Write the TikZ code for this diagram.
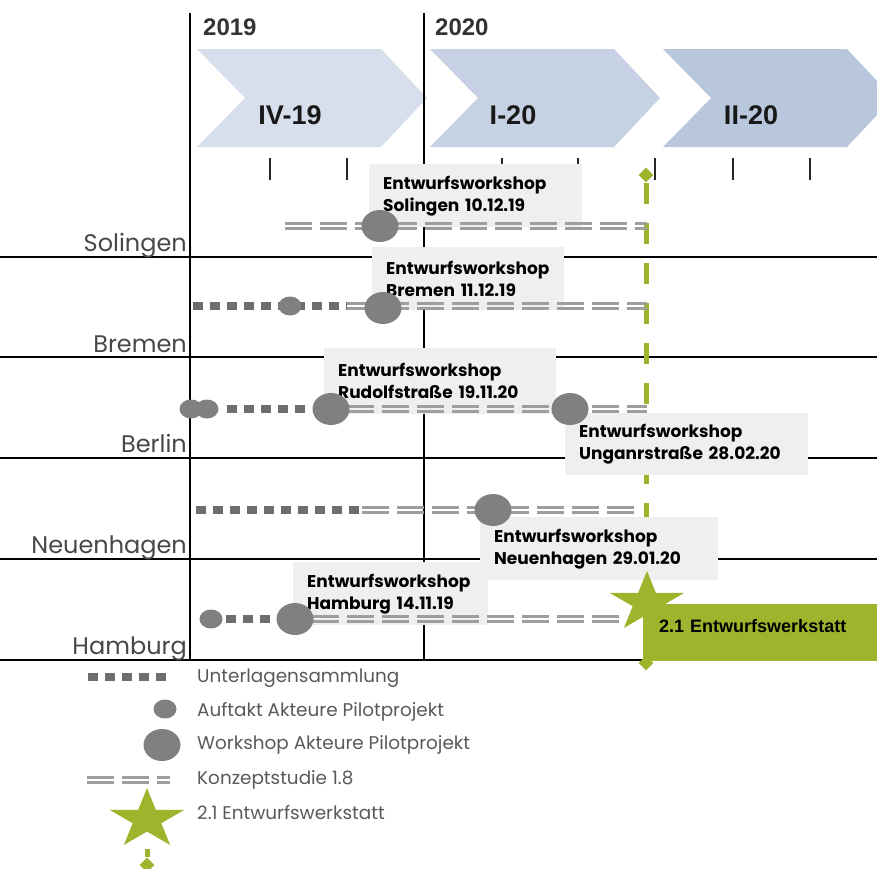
\documentclass[tikz,border=0pt]{standalone}
\usepackage{fontspec}
\setmainfont{Poppins}
\newfontfamily\arialfont{Liberation Sans}
\usepackage{tikz}
\usetikzlibrary{shapes.geometric}

\definecolor{qone}{HTML}{D6DFEB}
\definecolor{qtwo}{HTML}{C6D1E3}
\definecolor{qthree}{HTML}{B9C7DD}
\definecolor{boxgray}{HTML}{EFEFEF}
\definecolor{markgray}{HTML}{808080}
\definecolor{dotgray}{HTML}{6E6E6E}
\definecolor{dashgray}{HTML}{9E9E9E}
\definecolor{labelgray}{HTML}{474747}
\definecolor{werkgreen}{HTML}{9CB52C}

\tikzstyle{grid} = [draw=black, line width=1.4pt]
\tikzstyle{tick} = [draw=black!85, line width=1.6pt]
\tikzstyle{year} = [anchor=west, inner sep=0pt, text=black!80, font=\arialfont\bfseries\fontsize{24}{24}\selectfont]
\tikzstyle{quarter} = [inner sep=0pt, text=black!90, font=\arialfont\bfseries\fontsize{27}{27}\selectfont]
\tikzstyle{rowlabel} = [anchor=base east, inner sep=0pt, text=labelgray, font=\fontsize{24}{24}\selectfont]
\tikzstyle{wsbox} = [anchor=north west, fill=boxgray, align=left, inner xsep=14pt, inner ysep=0pt, minimum height=63pt, text=black, font=\bfseries\fontsize{17}{22}\selectfont]
\tikzstyle{auftakt} = [ellipse, fill=markgray, minimum width=23pt, minimum height=19pt, inner sep=0pt]
\tikzstyle{workshop} = [ellipse, fill=markgray, minimum width=37pt, minimum height=32pt, inner sep=0pt]
\tikzstyle{sammlung} = [draw=dotgray, line width=8pt, dash pattern=on 10pt off 7pt]
\tikzstyle{konzept} = [draw=dashgray, line width=2.6pt, dash pattern=on 27pt off 8pt]
\tikzstyle{werkline} = [draw=werkgreen, line width=5pt, dash pattern=on 21pt off 19pt]
\tikzstyle{tip} = [diamond, fill=werkgreen, minimum size=15pt, inner sep=0pt]
\tikzstyle{werkstar} = [star, star points=5, star point ratio=2.618, fill=werkgreen, minimum size=63pt, inner sep=0pt, xscale=1.25, transform shape]
\tikzstyle{werkbox} = [anchor=north west, fill=werkgreen, align=left, inner xsep=16pt, inner ysep=0pt, text width=208pt, text height=13pt, text depth=13pt, minimum height=57pt, text=black, font=\arialfont\bfseries\fontsize{18}{18}\selectfont]
\tikzstyle{legend} = [anchor=west, inner sep=0pt, text=black!65, font=\fontsize{18.4}{18.4}\selectfont]

\begin{document}
\begin{tikzpicture}[x=1pt, y=-1pt]
\useasboundingbox (0,0) rectangle (877,868);

% quarters
\fill[qone] (197,49) -- (381,49) -- (427,98) -- (381,147) -- (197,147) -- (245,98) -- cycle;
\fill[qtwo] (430,49) -- (614,49) -- (660,98) -- (614,147) -- (430,147) -- (478,98) -- cycle;
\fill[qthree] (663,49) -- (847,49) -- (893,98) -- (847,147) -- (663,147) -- (711,98) -- cycle;
\node[quarter] (q4) at (290,115) {IV-19};
\node[quarter] (q1) at (513,115) {I-20};
\node[quarter] (q2) at (751,115) {II-20};
\node[year] (y19) at (203,27) {2019};
\node[year] (y20) at (435,27) {2020};

% grid
\draw[grid] (190,13) -- (190,660);
\draw[grid] (424,13) -- (424,660);
\draw[grid] (0,257) -- (877,257);
\draw[grid] (0,357) -- (877,357);
\draw[grid] (0,458) -- (877,458);
\draw[grid] (0,559) -- (877,559);
\draw[grid] (0,660) -- (877,660);
\draw[tick] (270,158) -- (270,180) (347,158) -- (347,180) (502,158) -- (502,180)
  (578,158) -- (578,180) (655,158) -- (655,180) (733,158) -- (733,180) (810,158) -- (810,180);

\node[rowlabel] (sol) at (187,251) {Solingen};
\node[rowlabel] (bre) at (187,352) {Bremen};
\node[rowlabel] (ber) at (187,452) {Berlin};
\node[rowlabel] (neu) at (187,553) {Neuenhagen};
\node[rowlabel] (ham) at (187,654) {Hamburg};

% 2.1 Entwurfswerkstatt
\node[tip] (top) at (646,175) {};
\node[tip] (bot) at (646,663) {};
\draw[werkline] (top.south) -- (bot.north);

% workshop boxes
\node[wsbox, minimum width=213pt, text width=185pt] (solws) at (369,164) {Entwurfsworkshop\\Solingen 10.12.19};
\node[wsbox, minimum width=192pt, text width=164pt] (brews) at (372,247) {Entwurfsworkshop\\Bremen 11.12.19};
\node[wsbox, minimum width=232pt, text width=204pt, minimum height=66pt] (rudws) at (324,348) {Entwurfsworkshop\\Rudolfstraße 19.11.20};
\node[wsbox, minimum width=243pt, text width=215pt, minimum height=62pt] (ungws) at (565,413) {Entwurfsworkshop\\Unganrstraße 28.02.20};
\node[wsbox, minimum width=238pt, text width=210pt] (neuws) at (480,517) {Entwurfsworkshop\\Neuenhagen 29.01.20};
\node[wsbox, minimum width=195pt, text width=167pt] (hamws) at (293,562) {Entwurfsworkshop\\Hamburg 14.11.19};

% Solingen
\coordinate (sol-a) at (285,226);
\coordinate (sol-b) at (647,226);
\draw[konzept] ([yshift=2.7pt]sol-a) -- ([yshift=2.7pt]sol-b);
\draw[konzept] ([yshift=-2.7pt]sol-a) -- ([yshift=-2.7pt]sol-b);
\node[workshop] (sol-w) at (380,226) {};

% Bremen
\coordinate (bre-s) at (193,306);
\coordinate (bre-a) at (347,306);
\coordinate (bre-b) at (647,306);
\draw[sammlung] (bre-s) -- (bre-a);
\draw[konzept] ([yshift=2.7pt]bre-a) -- ([yshift=2.7pt]bre-b);
\draw[konzept] ([yshift=-2.7pt]bre-a) -- ([yshift=-2.7pt]bre-b);
\node[auftakt] (bre-k) at (290,306) {};
\node[workshop] (bre-w) at (383,308) {};

% Berlin
\coordinate (ber-s) at (227,409);
\coordinate (ber-e) at (305,409);
\coordinate (ber-a) at (347,409);
\coordinate (ber-b) at (647,409);
\draw[sammlung] (ber-s) -- (ber-e);
\draw[konzept] ([yshift=2.7pt]ber-a) -- ([yshift=2.7pt]ber-b);
\draw[konzept] ([yshift=-2.7pt]ber-a) -- ([yshift=-2.7pt]ber-b);
\node[auftakt] (ber-k1) at (191,409) {};
\node[auftakt] (ber-k2) at (207,409) {};
\node[workshop] (ber-w1) at (331,409) {};
\node[workshop] (ber-w2) at (570,409) {};

% Neuenhagen
\coordinate (neu-s) at (196,510);
\coordinate (neu-a) at (362,510);
\coordinate (neu-b) at (640,510);
\draw[sammlung] (neu-s) -- (neu-a);
\draw[konzept] ([yshift=2.7pt]neu-a) -- ([yshift=2.7pt]neu-b);
\draw[konzept] ([yshift=-2.7pt]neu-a) -- ([yshift=-2.7pt]neu-b);
\node[workshop] (neu-w) at (493,510) {};

% Hamburg
\coordinate (ham-s) at (226,619);
\coordinate (ham-e) at (272,619);
\coordinate (ham-a) at (312,619);
\coordinate (ham-b) at (622,619);
\draw[sammlung] (ham-s) -- (ham-e);
\draw[konzept] ([yshift=2.7pt]ham-a) -- ([yshift=2.7pt]ham-b);
\draw[konzept] ([yshift=-2.7pt]ham-a) -- ([yshift=-2.7pt]ham-b);
\node[auftakt] (ham-k) at (211,619) {};
\node[workshop] (ham-w) at (295,619) {};

\node[werkstar] (star) at (647,602.5) {};
\node[werkbox] (werk) at (643,604) {2.1 Entwurfswerkstatt};

% legend
\coordinate (leg-s) at (88,677);
\coordinate (leg-e) at (170,677);
\draw[sammlung] (leg-s) -- (leg-e);
\node[legend] (leg1) at (197,678) {Unterlagensammlung};
\node[auftakt] (leg-k) at (165,709) {};
\node[legend] (leg2) at (197,712) {Auftakt Akteure Pilotprojekt};
\node[workshop] (leg-w) at (162,745) {};
\node[legend] (leg3) at (197,745) {Workshop Akteure Pilotprojekt};
\coordinate (leg-a) at (87,780);
\coordinate (leg-b) at (170,780);
\draw[konzept] ([yshift=2.7pt]leg-a) -- ([yshift=2.7pt]leg-b);
\draw[konzept] ([yshift=-2.7pt]leg-a) -- ([yshift=-2.7pt]leg-b);
\node[legend] (leg4) at (197,780) {Konzeptstudie 1.8};
\node[werkstar] (leg-star) at (147,819.5) {};
\node[legend] (leg5) at (197,813) {2.1 Entwurfswerkstatt};
\node[tip] (leg-tip) at (147,865) {};
\draw[werkgreen, line width=5pt] (147,849) -- (leg-tip.north);
\end{tikzpicture}
\end{document}
